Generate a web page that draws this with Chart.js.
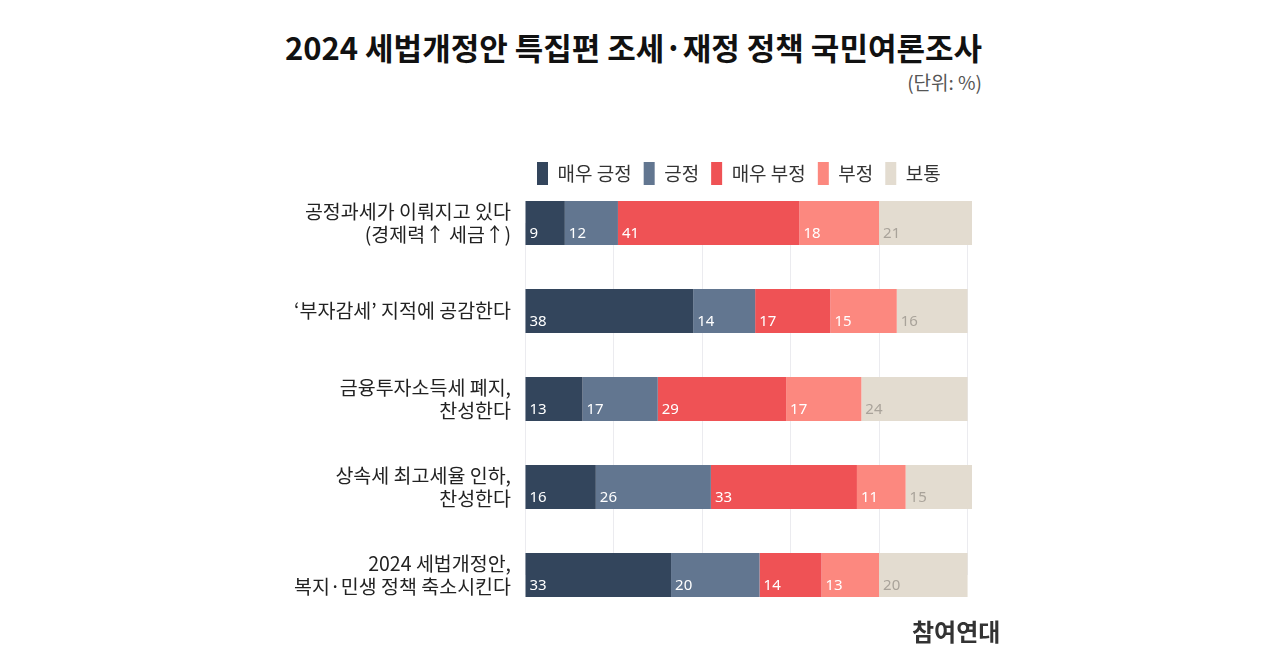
<!DOCTYPE html>
<html>
<head>
<meta charset="utf-8">
<script src="https://cdn.jsdelivr.net/npm/chart.js@4.4.1/dist/chart.umd.min.js"></script>
<style>
  html, body { margin: 0; padding: 0; background: #ffffff; }
  body { width: 1280px; height: 664px; position: relative; overflow: hidden; font-family: "Noto Sans CJK KR", "Noto Sans", sans-serif; }
  #title { position: absolute; right: 298px; top: 24px; font-size: 31px; font-weight: 700; color: #111; white-space: nowrap; }
  #unit { position: absolute; right: 298px; top: 68px; font-size: 19px; color: #555; white-space: nowrap; }
  #credit { position: absolute; left: 912px; top: 613px; font-size: 24px; font-weight: 700; color: #333; white-space: nowrap; }
  #wrap { position: absolute; left: 0; top: 0; width: 1280px; height: 664px; }
</style>
</head>
<body>
<div id="title">2024 세법개정안 특집편 조세·재정 정책 국민여론조사</div>
<div id="unit">(단위: %)</div>
<div id="wrap"><canvas id="c" width="1280" height="664"></canvas></div>
<div id="credit">참여연대</div>
<script>
const categories = [
  ["공정과세가 이뤄지고 있다", "(경제력↑ 세금↑)"],
  ["‘부자감세’ 지적에 공감한다"],
  ["금융투자소득세 폐지,", "찬성한다"],
  ["상속세 최고세율 인하,", "찬성한다"],
  ["2024 세법개정안,", "복지·민생 정책 축소시킨다"]
];
const seriesNames = ["매우 긍정", "긍정", "매우 부정", "부정", "보통"];
const veryPositive = [9, 38, 13, 16, 33];
const positive = [12, 14, 17, 26, 20];
const veryNegative = [41, 17, 29, 33, 14];
const negative = [18, 15, 17, 11, 13];
const neutral = [21, 16, 24, 15, 20];
const xTicks = [0, 20, 40, 60, 80, 100];

const seriesValues = [veryPositive, positive, veryNegative, negative, neutral];
const colors = ["#33455c", "#627690", "#ef5255", "#fc887f", "#e3dcd0"];
const labelColors = ["#ffffff", "#ffffff", "#ffffff", "#ffffff", "#a9a39a"];

const valueLabels = {
  id: 'valueLabels',
  afterDatasetsDraw(chart) {
    const ctx = chart.ctx;
    ctx.save();
    ctx.font = '15px "Noto Sans", "Noto Sans CJK KR", sans-serif';
    ctx.textAlign = 'left';
    ctx.textBaseline = 'alphabetic';
    chart.data.datasets.forEach((ds, i) => {
      const meta = chart.getDatasetMeta(i);
      meta.data.forEach((bar, j) => {
        const p = bar.getProps(['x', 'y', 'base', 'height'], true);
        ctx.fillStyle = labelColors[i];
        ctx.fillText(String(ds.data[j]), Math.min(p.x, p.base) + 4, p.y + p.height / 2 - 7);
      });
    });
    ctx.restore();
  }
};

new Chart(document.getElementById('c'), {
  type: 'bar',
  data: {
    labels: categories,
    datasets: seriesNames.map((name, i) => ({
      label: name,
      data: seriesValues[i],
      backgroundColor: colors[i],
      borderWidth: 0,
      barPercentage: 0.5,
      categoryPercentage: 1,
      clip: false
    }))
  },
  options: {
    indexAxis: 'y',
    responsive: false,
    animation: false,
    layout: { padding: { left: 280, right: 308, top: 150, bottom: 89 } },
    scales: {
      x: {
        stacked: true,
        min: 0,
        max: 101,
        afterBuildTicks(scale) { scale.ticks = xTicks.map(v => ({ value: v })); },
        ticks: { display: false },
        grid: { color: '#ebebef', lineWidth: 1, drawTicks: false },
        border: { display: false }
      },
      y: {
        stacked: true,
        offset: false,
        afterFit(scale) { scale.width = 245; },
        ticks: {
          color: '#222',
          padding: 6,
          font: { family: '"Noto Sans CJK KR", "Noto Sans", sans-serif', size: 19.5, lineHeight: 1.15 }
        },
        grid: { display: false },
        border: { display: false }
      }
    },
    plugins: {
      legend: {
        position: 'top',
        align: 'start',
        fullSize: false,
        labels: {
          boxWidth: 11,
          boxHeight: 23,
          padding: 12,
          color: '#333',
          font: { family: '"Noto Sans CJK KR", "Noto Sans", sans-serif', size: 19 }
        }
      },
      subtitle: {
        display: true,
        text: '',
        position: 'top',
        weight: 500,
        fullSize: false,
        padding: 0,
        font: { size: 20, lineHeight: 1.4 }
      },
      tooltip: { enabled: false }
    }
  },
  plugins: [valueLabels]
});
</script>
</body>
</html>
